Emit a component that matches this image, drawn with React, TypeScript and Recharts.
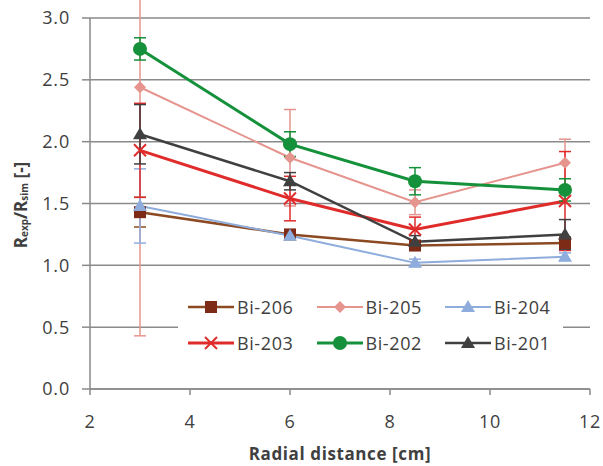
import React from 'react';
import { LineChart, Line, XAxis, YAxis, CartesianGrid, ErrorBar, Legend, Label } from 'recharts';

const xValues = [3, 6, 8.5, 11.5];
const bi206 = [1.43, 1.25, 1.16, 1.18];
const bi205 = [2.44, 1.87, 1.51, 1.83];
const bi204 = [1.48, 1.24, 1.02, 1.07];
const bi203 = [1.93, 1.54, 1.29, 1.52];
const bi202 = [2.75, 1.98, 1.68, 1.61];
const bi201 = [2.06, 1.68, 1.19, 1.25];

const err206 = [0.12, 0.03, 0.03, 0.05];
const err205 = [2.01, 0.39, 0.1, 0.19];
const err204 = [0.3, 0.03, 0.03, 0.03];
const err203 = [0.38, 0.18, 0.1, 0.4];
const err202 = [0.09, 0.1, 0.11, 0.09];
const err201 = [0.24, 0.07, 0.05, 0.12];

const xTicks = [2, 4, 6, 8, 10, 12];
const yTicks = [0, 0.5, 1, 1.5, 2, 2.5, 3];

const seriesNames = ['Bi-206', 'Bi-205', 'Bi-204', 'Bi-203', 'Bi-202', 'Bi-201'];

const series = [
  { key: 'bi206', err: 'e206', name: seriesNames[0], color: '#8c4a22', marker: 'square', mcolor: '#7d2a16', width: 2.5 },
  { key: 'bi205', err: 'e205', name: seriesNames[1], color: '#e5948e', marker: 'diamond', mcolor: '#e5948e', width: 2 },
  { key: 'bi204', err: 'e204', name: seriesNames[2], color: '#8eacdc', marker: 'triangle', mcolor: '#8eacdc', width: 2 },
  { key: 'bi203', err: 'e203', name: seriesNames[3], color: '#e02b2b', marker: 'x', mcolor: '#e02b2b', width: 3 },
  { key: 'bi202', err: 'e202', name: seriesNames[4], color: '#15913b', marker: 'circle', mcolor: '#15913b', width: 3 },
  { key: 'bi201', err: 'e201', name: seriesNames[5], color: '#404040', marker: 'triangle', mcolor: '#404040', width: 2.5 },
];

const data = xValues.map((x, i) => ({
  x,
  bi206: bi206[i], e206: err206[i],
  bi205: bi205[i], e205: err205[i],
  bi204: bi204[i], e204: err204[i],
  bi203: bi203[i], e203: err203[i],
  bi202: bi202[i], e202: err202[i],
  bi201: bi201[i], e201: err201[i],
}));

const FONT = '"Open Sans", sans-serif';
const TEXT = '#404040';

function MarkerShape({ type, cx, cy, color }: { type: string; cx: number; cy: number; color: string }) {
  if (cx == null || cy == null) return null;
  switch (type) {
    case 'square':
      return <rect x={cx - 6} y={cy - 6} width={12} height={12} fill={color} />;
    case 'diamond':
      return <polygon points={`${cx},${cy - 6} ${cx + 6},${cy} ${cx},${cy + 6} ${cx - 6},${cy}`} fill={color} />;
    case 'triangle':
      return <polygon points={`${cx},${cy - 7} ${cx + 7},${cy + 5} ${cx - 7},${cy + 5}`} fill={color} />;
    case 'x':
      return (
        <g stroke={color} strokeWidth={2}>
          <line x1={cx - 6} y1={cy - 6} x2={cx + 6} y2={cy + 6} />
          <line x1={cx - 6} y1={cy + 6} x2={cx + 6} y2={cy - 6} />
        </g>
      );
    case 'circle':
      return <circle cx={cx} cy={cy} r={7} fill={color} />;
    default:
      return null;
  }
}

function YAxisTitle(props: any) {
  const cx = 20;
  const cy = 205;
  return (
    <text
      x={cx}
      y={cy}
      transform={`rotate(-90, ${cx}, ${cy})`}
      textAnchor="middle"
      dominantBaseline="central"
      fontFamily={FONT}
      fontWeight="bold"
      fontSize={17}
      fill={TEXT}
    >
      <tspan>R</tspan>
      <tspan fontSize={10} dy={4}>exp</tspan>
      <tspan dy={-4}>/R</tspan>
      <tspan fontSize={10} dy={4}>sim</tspan>
      <tspan dy={-4}> [-]</tspan>
    </text>
  );
}

function LegendContent() {
  return (
    <div style={{ position: 'relative', width: 385, height: 76, background: '#ffffff' }}>
      {series.map((s, i) => {
        const col = i % 3;
        const row = Math.floor(i / 3);
        const left = 10 + col * 128.5;
        const top = row * 36 + 4;
        return (
          <div key={s.key} style={{ position: 'absolute', left, top, height: 34, display: 'flex', alignItems: 'center' }}>
            <svg width={46} height={20} style={{ display: 'block' }}>
              <line x1={0} y1={10} x2={46} y2={10} stroke={s.color} strokeWidth={s.width} />
              <MarkerShape type={s.marker} cx={23} cy={10} color={s.mcolor} />
            </svg>
            <span style={{ fontFamily: FONT, fontSize: 18, color: TEXT, marginLeft: 3, letterSpacing: 0.6 }}>{s.name}</span>
          </div>
        );
      })}
    </div>
  );
}

export default function App() {
  return (
    <div style={{ position: 'absolute', left: 0, top: 0, width: 603, height: 466, background: '#fff' }}>
      <LineChart width={603} height={466} data={data} margin={{ top: 18, right: 13, bottom: 0, left: 0 }}>
        <CartesianGrid vertical={false} stroke="#8a8a8a" strokeWidth={1.5} />
        <XAxis
          dataKey="x"
          type="number"
          domain={[2, 12]}
          ticks={xTicks}
          height={77}
          stroke="#8a8a8a"
          strokeWidth={1.5}
          tickSize={6}
          tick={{ fontFamily: FONT, fontSize: 18, fill: TEXT, dy: 18, letterSpacing: 0.6 } as any}
          tickLine={{ stroke: '#8a8a8a', strokeWidth: 1.5 }}
        >
          <Label
            value="Radial distance [cm]"
            position="insideBottom"
            offset={4}
            dy={-2}
            style={{ fontFamily: FONT, fontSize: 17, fontWeight: 'bold', fill: TEXT, letterSpacing: 0.6 }}
          />
        </XAxis>
        <YAxis
          type="number"
          domain={[0, 3]}
          ticks={yTicks}
          allowDataOverflow
          width={90}
          stroke="#8a8a8a"
          strokeWidth={1.5}
          tickSize={8}
          tickMargin={12}
          tickFormatter={(v: number) => v.toFixed(1)}
          tick={{ fontFamily: FONT, fontSize: 18, fill: TEXT, letterSpacing: 0.8 } as any}
          tickLine={{ stroke: '#8a8a8a', strokeWidth: 1.5 }}
        >
          <Label content={<YAxisTitle />} />
        </YAxis>
        {series.map((s) => (
          <Line
            key={s.key}
            dataKey={s.key}
            name={s.name}
            stroke={s.color}
            strokeWidth={s.width}
            isAnimationActive={false}
            dot={(p: any) => <MarkerShape key={`${s.key}-${p.index}`} type={s.marker} cx={p.cx} cy={p.cy} color={s.mcolor} />}
            activeDot={false}
          >
            <ErrorBar dataKey={s.err} direction="y" width={6} stroke={s.color} strokeWidth={1.5} isAnimationActive={false} />
          </Line>
        ))}
        <Legend
          layout="horizontal"
          verticalAlign="middle"
          align="center"
          wrapperStyle={{ position: 'absolute', left: 178, top: 286, width: 385, height: 76 }}
          content={() => <LegendContent />}
        />
      </LineChart>
    </div>
  );
}
